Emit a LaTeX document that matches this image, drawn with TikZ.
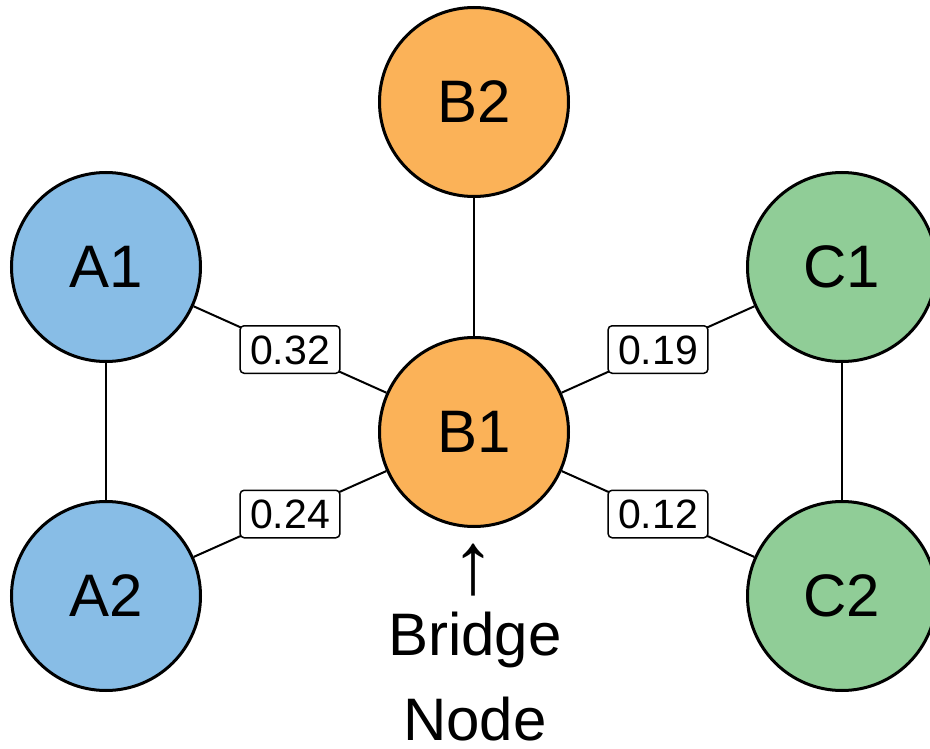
\documentclass[tikz,border=0pt]{standalone}
\usepackage{fontspec}
\setmainfont{Liberation Sans}
\definecolor{groupA}{HTML}{88BDE6}
\definecolor{groupB}{HTML}{FBB258}
\definecolor{groupC}{HTML}{90CD97}
\begin{document}
\begin{tikzpicture}[x=1pt, y=-1pt,
  vertex/.style={circle, draw=black, line width=3pt, minimum size=189pt,
    inner sep=0pt, font=\fontsize{60}{72}\selectfont},
  link/.style={line width=2pt},
  weight/.style={draw=black, fill=white, line width=1.5pt, rounded corners=4pt,
    font=\fontsize{41}{48}\selectfont, inner xsep=10pt, inner ysep=9pt,
    text height=29.5pt, text depth=0pt},
  caption/.style={font=\fontsize{60}{72}\selectfont, inner sep=0pt, text depth=0pt}]
\useasboundingbox (0,0) rectangle (930,749);

% vertices
\node[vertex, fill=groupA] (A1) at (106,267) {A1};
\node[vertex, fill=groupA] (A2) at (106,596) {A2};
\node[vertex, fill=groupB] (B2) at (474,102) {B2};
\node[vertex, fill=groupB] (B1) at (474,432) {B1};
\node[vertex, fill=groupC] (C1) at (842,267) {C1};
\node[vertex, fill=groupC] (C2) at (842,596) {C2};

% edges inside each group
\draw[link] (A1) -- (A2);
\draw[link] (B1) -- (B2);
\draw[link] (C1) -- (C2);

% weighted edges through the bridge
\draw[link] (A1) -- (B1) node[weight, midway] (wA1) {0.32};
\draw[link] (A2) -- (B1) node[weight, midway] (wA2) {0.24};
\draw[link] (C1) -- (B1) node[weight, midway] (wC1) {0.19};
\draw[link] (C2) -- (B1) node[weight, midway] (wC2) {0.12};

% caption under B1
\node[inner sep=0pt, font=\fontsize{88}{96}\selectfont] (pointer) at (473,570) {↑};
\node[caption, anchor=base] (bridge) at (475,655) {Bridge};
\node[caption, anchor=base] (nodeword) at (475,740) {Node};
\end{tikzpicture}
\end{document}
